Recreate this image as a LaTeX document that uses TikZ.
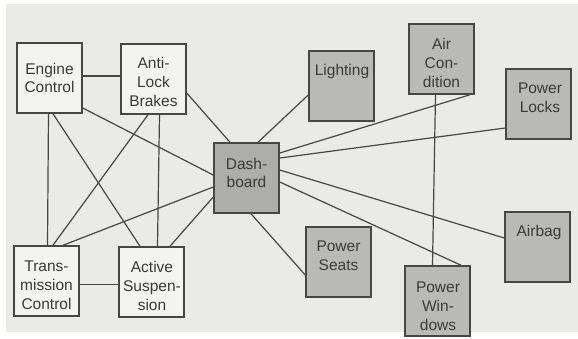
\documentclass[tikz,border=0pt]{standalone}
\usepackage{fontspec}
\setmainfont{Liberation Sans}
\definecolor{paper}{HTML}{EAEAE8}
\definecolor{lineC}{HTML}{464646}
\definecolor{textC}{HTML}{3A3A3A}
\definecolor{whiteBox}{HTML}{F3F3F1}
\definecolor{grayBox}{HTML}{B9B9B7}
\definecolor{dashBox}{HTML}{ADADAB}
\begin{document}
\begin{tikzpicture}[x=1pt,y=-1pt,
  box/.style={draw=lineC, line width=1.5pt, minimum width=65pt, minimum height=70pt, inner sep=0pt},
  wbox/.style={box, fill=whiteBox},
  gbox/.style={box, fill=grayBox},
  txt/.style={text=textC, align=center, inner sep=0pt, font=\fontsize{15.5}{18.8}\selectfont},
  conn/.style={draw=lineC, line width=1.2pt}]
\useasboundingbox (0,0) rectangle (578,338);
\fill[white] (0,0) rectangle (578,338);
\fill[paper] (6,4) rectangle (578,332);

% boxes
\node[wbox] (eng) at (49.5,78) {};
\node[wbox] (abs) at (153.5,79) {};
\node[box, fill=dashBox] (dash) at (246.5,178) {};
\node[gbox] (light) at (341.5,86) {};
\node[gbox] (air) at (441.5,59) {};
\node[gbox] (locks) at (538.5,104) {};
\node[wbox] (trans) at (46.5,281) {};
\node[wbox] (act) at (151.5,282) {};
\node[gbox] (seats) at (338.5,262) {};
\node[gbox] (win) at (437.5,301) {};
\node[gbox] (airbag) at (537.5,247) {};

% texts
\node[txt] (engT) at (49.5,78) {Engine\\Control};
\node[txt] (absT) at (153.5,82) {Anti-\\Lock\\Brakes};
\node[txt] (dashT) at (246.5,173) {Dash-\\board};
\node[txt] (lightT) at (342,71) {Lighting};
\node[txt] (airT) at (441.5,63) {Air\\Con-\\dition};
\node[txt] (locksT) at (540,98) {Power\\Locks};
\node[txt] (transT) at (46.5,285) {Trans-\\mission\\Control};
\node[txt] (actT) at (152,286) {Active\\Suspen-\\sion};
\node[txt] (seatsT) at (338.5,256) {Power\\Seats};
\node[txt] (winT) at (438,306) {Power\\Win-\\dows};
\node[txt] (airbagT) at (539,232) {Airbag};

% connectors
\draw[conn] (eng.east |- 0,76) -- (abs.west |- 0,76);
\draw[conn] (eng.south -| 48.5,0) -- (trans.north -| 47.5,0);
\draw[conn] (eng.south -| 53,0) -- (act.north -| 140,0);
\draw[conn] (eng.east |- 0,108) -- (dash.west |- 0,175);
\draw[conn] (abs.south -| 148,0) -- (trans.north -| 53,0);
\draw[conn] (abs.south -| 159.5,0) -- (act.north -| 157.5,0);
\draw[conn] (abs.east |- 0,93) -- (dash.north -| 230,0);
\draw[conn] (light.west |- 0,95) -- (dash.north -| 258,0);
\draw[conn] (dash.east |- 0,153) -- (air.south -| 470,0);
\draw[conn] (dash.east |- 0,158) -- (locks.west |- 0,128);
\draw[conn] (dash.east |- 0,170) -- (airbag.west |- 0,238);
\draw[conn] (dash.east |- 0,182) -- (win.north -| 461,0);
\draw[conn] (dash.south -| 251,0) -- (seats.west |- 0,275);
\draw[conn] (dash.west |- 0,187) -- (trans.north -| 63,0);
\draw[conn] (dash.west |- 0,197) -- (act.north -| 170,0);
\draw[conn] (air.south -| 435.5,0) -- (win.north -| 432.5,0);
\draw[conn] (trans.east |- 0,284.5) -- (act.west |- 0,284.5);
\end{tikzpicture}
\end{document}
